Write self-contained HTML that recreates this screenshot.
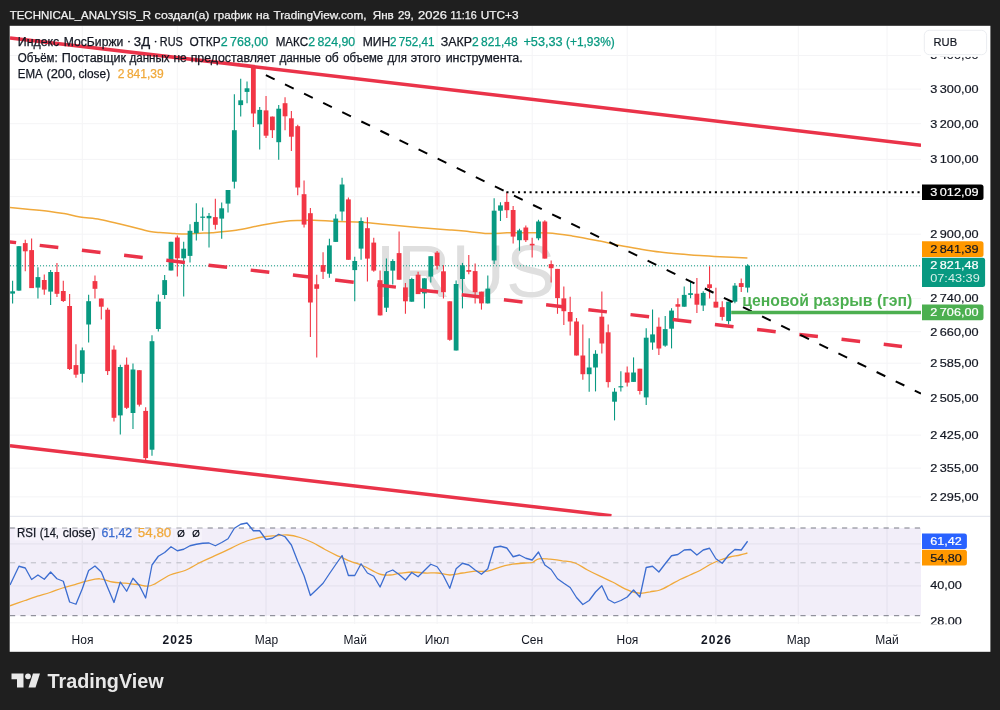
<!DOCTYPE html>
<html><head><meta charset="utf-8"><title>chart</title>
<style>
html,body{margin:0;padding:0;background:#1f1f1f;}
body{width:1000px;height:710px;overflow:hidden;position:relative;font-family:"Liberation Sans", sans-serif;}
svg{position:absolute;left:0;top:0;will-change:transform;}
text{font-family:"Liberation Sans", sans-serif;}
</style></head><body>
<svg width="1000" height="710" viewBox="0 0 1000 710">
<defs>
<clipPath id="main"><rect x="10" y="26" width="911" height="490.29999999999995"/></clipPath>
<clipPath id="rsi"><rect x="10" y="516.3" width="911" height="108.20000000000005"/></clipPath>
<clipPath id="axr"><rect x="921" y="516.3" width="69" height="108.0"/></clipPath>
</defs>
<rect x="0" y="0" width="1000" height="710" fill="#1f1f1f"/>
<rect x="9.7" y="25.8" width="980.7" height="626" fill="#ffffff"/>

<text x="9.70" y="19" font-size="11.6" fill="#f2f2f2" stroke="#f2f2f2" stroke-width="0.25" textLength="141.4" lengthAdjust="spacingAndGlyphs">TECHNICAL_ANALYSIS_R</text>
<text x="154.60" y="19" font-size="11.6" fill="#f2f2f2" stroke="#f2f2f2" stroke-width="0.25" textLength="54.8" lengthAdjust="spacingAndGlyphs">создал(а)</text>
<text x="213.50" y="19" font-size="11.6" fill="#f2f2f2" stroke="#f2f2f2" stroke-width="0.25" textLength="38.3" lengthAdjust="spacingAndGlyphs">график</text>
<text x="255.90" y="19" font-size="11.6" fill="#f2f2f2" stroke="#f2f2f2" stroke-width="0.25" textLength="13.4" lengthAdjust="spacingAndGlyphs">на</text>
<text x="273.40" y="19" font-size="11.6" fill="#f2f2f2" stroke="#f2f2f2" stroke-width="0.25" textLength="93.1" lengthAdjust="spacingAndGlyphs">TradingView.com,</text>
<text x="372.80" y="19" font-size="11.6" fill="#f2f2f2" stroke="#f2f2f2" stroke-width="0.25" textLength="21.0" lengthAdjust="spacingAndGlyphs">Янв</text>
<text x="397.90" y="19" font-size="11.6" fill="#f2f2f2" stroke="#f2f2f2" stroke-width="0.25" textLength="15.9" lengthAdjust="spacingAndGlyphs">29,</text>
<text x="418.10" y="19" font-size="11.6" fill="#f2f2f2" stroke="#f2f2f2" stroke-width="0.25" textLength="28.9" lengthAdjust="spacingAndGlyphs">2026</text>
<text x="450.50" y="19" font-size="11.6" fill="#f2f2f2" stroke="#f2f2f2" stroke-width="0.25" textLength="26.2" lengthAdjust="spacingAndGlyphs">11:16</text>
<text x="480.80" y="19" font-size="11.6" fill="#f2f2f2" stroke="#f2f2f2" stroke-width="0.25" textLength="37.7" lengthAdjust="spacingAndGlyphs">UTC+3</text>
<line x1="82.3" y1="26" x2="82.3" y2="624.0" stroke="#f4f4f6" stroke-width="1"/>
<line x1="177.3" y1="26" x2="177.3" y2="624.0" stroke="#f4f4f6" stroke-width="1"/>
<line x1="266.0" y1="26" x2="266.0" y2="624.0" stroke="#f4f4f6" stroke-width="1"/>
<line x1="354.7" y1="26" x2="354.7" y2="624.0" stroke="#f4f4f6" stroke-width="1"/>
<line x1="437.1" y1="26" x2="437.1" y2="624.0" stroke="#f4f4f6" stroke-width="1"/>
<line x1="532.2" y1="26" x2="532.2" y2="624.0" stroke="#f4f4f6" stroke-width="1"/>
<line x1="627.2" y1="26" x2="627.2" y2="624.0" stroke="#f4f4f6" stroke-width="1"/>
<line x1="715.9" y1="26" x2="715.9" y2="624.0" stroke="#f4f4f6" stroke-width="1"/>
<line x1="798.3" y1="26" x2="798.3" y2="624.0" stroke="#f4f4f6" stroke-width="1"/>
<line x1="887.0" y1="26" x2="887.0" y2="624.0" stroke="#f4f4f6" stroke-width="1"/>
<line x1="10" y1="55.5" x2="921" y2="55.5" stroke="#f4f4f6" stroke-width="1"/>
<line x1="10" y1="89.1" x2="921" y2="89.1" stroke="#f4f4f6" stroke-width="1"/>
<line x1="10" y1="123.7" x2="921" y2="123.7" stroke="#f4f4f6" stroke-width="1"/>
<line x1="10" y1="159.4" x2="921" y2="159.4" stroke="#f4f4f6" stroke-width="1"/>
<line x1="10" y1="196.6" x2="921" y2="196.6" stroke="#f4f4f6" stroke-width="1"/>
<line x1="10" y1="234.2" x2="921" y2="234.2" stroke="#f4f4f6" stroke-width="1"/>
<line x1="10" y1="266" x2="921" y2="266" stroke="#f4f4f6" stroke-width="1"/>
<line x1="10" y1="298.6" x2="921" y2="298.6" stroke="#f4f4f6" stroke-width="1"/>
<line x1="10" y1="331.7" x2="921" y2="331.7" stroke="#f4f4f6" stroke-width="1"/>
<line x1="10" y1="363.2" x2="921" y2="363.2" stroke="#f4f4f6" stroke-width="1"/>
<line x1="10" y1="398" x2="921" y2="398" stroke="#f4f4f6" stroke-width="1"/>
<line x1="10" y1="435.1" x2="921" y2="435.1" stroke="#f4f4f6" stroke-width="1"/>
<line x1="10" y1="468.1" x2="921" y2="468.1" stroke="#f4f4f6" stroke-width="1"/>
<line x1="10" y1="496.9" x2="921" y2="496.9" stroke="#f4f4f6" stroke-width="1"/>
<line x1="10" y1="543.9" x2="921" y2="543.9" stroke="#f4f4f6" stroke-width="1"/>
<line x1="10" y1="585.9" x2="921" y2="585.9" stroke="#f4f4f6" stroke-width="1"/>
<line x1="10" y1="622.8" x2="921" y2="622.8" stroke="#f4f4f6" stroke-width="1"/>
<text x="375.3" y="297" font-size="74" fill="#dfdfdf" textLength="180" lengthAdjust="spacing">IRUS</text>
<rect x="10" y="528" width="911" height="87.70000000000005" fill="#7e57c2" fill-opacity="0.1"/>
<line x1="82.3" y1="528" x2="82.3" y2="615.7" stroke="#e8e5f1" stroke-width="1"/>
<line x1="177.3" y1="528" x2="177.3" y2="615.7" stroke="#e8e5f1" stroke-width="1"/>
<line x1="266.0" y1="528" x2="266.0" y2="615.7" stroke="#e8e5f1" stroke-width="1"/>
<line x1="354.7" y1="528" x2="354.7" y2="615.7" stroke="#e8e5f1" stroke-width="1"/>
<line x1="437.1" y1="528" x2="437.1" y2="615.7" stroke="#e8e5f1" stroke-width="1"/>
<line x1="532.2" y1="528" x2="532.2" y2="615.7" stroke="#e8e5f1" stroke-width="1"/>
<line x1="627.2" y1="528" x2="627.2" y2="615.7" stroke="#e8e5f1" stroke-width="1"/>
<line x1="715.9" y1="528" x2="715.9" y2="615.7" stroke="#e8e5f1" stroke-width="1"/>
<line x1="798.3" y1="528" x2="798.3" y2="615.7" stroke="#e8e5f1" stroke-width="1"/>
<line x1="887.0" y1="528" x2="887.0" y2="615.7" stroke="#e8e5f1" stroke-width="1"/>
<line x1="10" y1="543.9" x2="921" y2="543.9" stroke="#e8e5f1" stroke-width="1"/>
<line x1="10" y1="585.9" x2="921" y2="585.9" stroke="#e8e5f1" stroke-width="1"/>
<line x1="10" y1="528" x2="921" y2="528" stroke="#787b86" stroke-width="1" stroke-dasharray="5.2 5.2"/>
<line x1="10" y1="562.8" x2="921" y2="562.8" stroke="#b9bbc4" stroke-width="1" stroke-dasharray="5.2 5.2"/>
<line x1="10" y1="615.7" x2="921" y2="615.7" stroke="#787b86" stroke-width="1" stroke-dasharray="5.2 5.2"/>
<line x1="10" y1="516.3" x2="990" y2="516.3" stroke="#e0e3eb" stroke-width="1"/>
<g clip-path="url(#main)">
<line x1="10" y1="265.8" x2="921" y2="265.8" stroke="#089981" stroke-width="1" stroke-dasharray="1 2"/>
<path d="M10.0 207.6C13.3 207.9 23.3 208.8 30.0 209.4C36.7 210.0 44.3 210.7 50.0 211.4C55.7 212.1 59.0 212.7 64.0 213.6C69.0 214.5 74.0 216.0 80.0 217.0C86.0 218.0 93.3 218.2 100.0 219.4C106.7 220.6 113.3 222.4 120.0 224.0C126.7 225.6 135.0 227.7 140.0 229.0C145.0 230.3 146.7 231.0 150.0 231.6C153.3 232.2 155.8 232.3 160.0 232.6C164.2 232.9 170.3 233.4 175.0 233.6C179.7 233.8 183.8 234.0 188.0 233.9C192.2 233.8 196.0 233.4 200.0 233.2C204.0 233.0 206.0 233.2 212.0 232.7C218.0 232.2 228.0 231.5 236.0 230.3C244.0 229.1 252.0 227.0 260.0 225.5C268.0 224.0 277.3 222.2 284.0 221.4C290.7 220.6 295.0 220.6 300.0 220.4C305.0 220.2 307.7 220.1 314.0 220.3C320.3 220.5 330.0 221.2 338.0 221.5C346.0 221.8 354.0 221.7 362.0 222.2C370.0 222.7 378.0 223.8 386.0 224.6C394.0 225.4 402.0 226.1 410.0 226.8C418.0 227.5 427.3 228.2 434.0 228.7C440.7 229.2 445.0 229.5 450.0 229.9C455.0 230.3 457.7 230.5 464.0 231.1C470.3 231.7 480.8 233.2 488.0 233.5C495.2 233.8 501.0 232.9 507.0 232.8C513.0 232.7 517.2 232.8 524.0 232.8C530.8 232.8 540.0 232.5 548.0 233.0C556.0 233.5 563.3 234.6 572.0 235.9C580.7 237.2 592.0 239.5 600.0 241.1C608.0 242.7 613.3 244.2 620.0 245.5C626.7 246.8 633.3 247.9 640.0 249.0C646.7 250.1 653.3 251.2 660.0 252.0C666.7 252.8 673.3 253.4 680.0 254.0C686.7 254.6 693.3 255.1 700.0 255.6C706.7 256.1 712.1 256.4 720.0 256.8C727.9 257.2 742.8 257.8 747.4 258.0" fill="none" stroke="#f0a93b" stroke-width="1.5" stroke-linejoin="round"/>
<line x1="12.60" y1="280.8" x2="12.60" y2="303.6" stroke="#089981" stroke-width="1.1"/>
<rect x="10.20" y="291.3" width="4.8" height="2.3" fill="#089981"/>
<line x1="18.94" y1="246.0" x2="18.94" y2="290.8" stroke="#089981" stroke-width="1.1"/>
<rect x="16.54" y="246.2" width="4.8" height="44.4" fill="#089981"/>
<line x1="25.27" y1="239.8" x2="25.27" y2="271.2" stroke="#f23645" stroke-width="1.1"/>
<rect x="22.87" y="243.1" width="4.8" height="8.2" fill="#f23645"/>
<line x1="31.61" y1="238.6" x2="31.61" y2="288.1" stroke="#f23645" stroke-width="1.1"/>
<rect x="29.21" y="250.1" width="4.8" height="38.0" fill="#f23645"/>
<line x1="37.94" y1="267.3" x2="37.94" y2="298.5" stroke="#089981" stroke-width="1.1"/>
<rect x="35.54" y="277.1" width="4.8" height="10.5" fill="#089981"/>
<line x1="44.28" y1="274.4" x2="44.28" y2="294.7" stroke="#f23645" stroke-width="1.1"/>
<rect x="41.88" y="280.0" width="4.8" height="9.6" fill="#f23645"/>
<line x1="50.62" y1="270.0" x2="50.62" y2="305.0" stroke="#089981" stroke-width="1.1"/>
<rect x="48.22" y="272.0" width="4.8" height="19.6" fill="#089981"/>
<line x1="56.95" y1="263.0" x2="56.95" y2="296.9" stroke="#f23645" stroke-width="1.1"/>
<rect x="54.55" y="272.0" width="4.8" height="21.8" fill="#f23645"/>
<line x1="63.29" y1="280.8" x2="63.29" y2="302.0" stroke="#f23645" stroke-width="1.1"/>
<rect x="60.89" y="291.0" width="4.8" height="10.0" fill="#f23645"/>
<line x1="69.62" y1="294.0" x2="69.62" y2="370.0" stroke="#f23645" stroke-width="1.1"/>
<rect x="67.22" y="306.0" width="4.8" height="63.0" fill="#f23645"/>
<line x1="75.96" y1="344.3" x2="75.96" y2="377.8" stroke="#f23645" stroke-width="1.1"/>
<rect x="73.56" y="365.1" width="4.8" height="9.6" fill="#f23645"/>
<line x1="82.30" y1="347.4" x2="82.30" y2="382.6" stroke="#089981" stroke-width="1.1"/>
<rect x="79.90" y="350.3" width="4.8" height="23.5" fill="#089981"/>
<line x1="88.63" y1="294.7" x2="88.63" y2="342.6" stroke="#089981" stroke-width="1.1"/>
<rect x="86.23" y="301.2" width="4.8" height="23.3" fill="#089981"/>
<line x1="94.97" y1="275.4" x2="94.97" y2="298.5" stroke="#f23645" stroke-width="1.1"/>
<rect x="92.57" y="281.1" width="4.8" height="7.7" fill="#f23645"/>
<line x1="101.30" y1="298.5" x2="101.30" y2="319.5" stroke="#f23645" stroke-width="1.1"/>
<rect x="98.90" y="298.5" width="4.8" height="8.2" fill="#f23645"/>
<line x1="107.64" y1="307.8" x2="107.64" y2="375.0" stroke="#f23645" stroke-width="1.1"/>
<rect x="105.24" y="309.7" width="4.8" height="61.4" fill="#f23645"/>
<line x1="113.98" y1="345.5" x2="113.98" y2="421.4" stroke="#f23645" stroke-width="1.1"/>
<rect x="111.58" y="349.6" width="4.8" height="68.2" fill="#f23645"/>
<line x1="120.31" y1="364.7" x2="120.31" y2="434.6" stroke="#089981" stroke-width="1.1"/>
<rect x="117.91" y="367.0" width="4.8" height="48.4" fill="#089981"/>
<line x1="126.65" y1="357.5" x2="126.65" y2="409.0" stroke="#f23645" stroke-width="1.1"/>
<rect x="124.25" y="364.7" width="4.8" height="43.1" fill="#f23645"/>
<line x1="132.98" y1="363.5" x2="132.98" y2="428.9" stroke="#089981" stroke-width="1.1"/>
<rect x="130.58" y="369.5" width="4.8" height="43.5" fill="#089981"/>
<line x1="139.32" y1="370.2" x2="139.32" y2="406.6" stroke="#f23645" stroke-width="1.1"/>
<rect x="136.92" y="370.2" width="4.8" height="34.5" fill="#f23645"/>
<line x1="145.66" y1="407.3" x2="145.66" y2="460.0" stroke="#f23645" stroke-width="1.1"/>
<rect x="143.26" y="410.9" width="4.8" height="47.2" fill="#f23645"/>
<line x1="151.99" y1="335.3" x2="151.99" y2="455.7" stroke="#089981" stroke-width="1.1"/>
<rect x="149.59" y="341.2" width="4.8" height="108.5" fill="#089981"/>
<line x1="158.33" y1="294.4" x2="158.33" y2="331.6" stroke="#089981" stroke-width="1.1"/>
<rect x="155.93" y="301.6" width="4.8" height="27.4" fill="#089981"/>
<line x1="164.66" y1="275.1" x2="164.66" y2="299.0" stroke="#089981" stroke-width="1.1"/>
<rect x="162.26" y="280.1" width="4.8" height="14.9" fill="#089981"/>
<line x1="171.00" y1="241.8" x2="171.00" y2="270.5" stroke="#089981" stroke-width="1.1"/>
<rect x="168.60" y="241.8" width="4.8" height="28.7" fill="#089981"/>
<line x1="177.34" y1="235.6" x2="177.34" y2="276.5" stroke="#f23645" stroke-width="1.1"/>
<rect x="174.94" y="237.5" width="4.8" height="20.8" fill="#f23645"/>
<line x1="183.67" y1="241.8" x2="183.67" y2="296.6" stroke="#089981" stroke-width="1.1"/>
<rect x="181.27" y="248.7" width="4.8" height="9.6" fill="#089981"/>
<line x1="190.01" y1="224.3" x2="190.01" y2="262.6" stroke="#089981" stroke-width="1.1"/>
<rect x="187.61" y="230.8" width="4.8" height="25.1" fill="#089981"/>
<line x1="196.34" y1="203.2" x2="196.34" y2="240.4" stroke="#089981" stroke-width="1.1"/>
<rect x="193.94" y="221.9" width="4.8" height="11.3" fill="#089981"/>
<line x1="202.68" y1="207.5" x2="202.68" y2="230.8" stroke="#089981" stroke-width="1.1"/>
<rect x="200.28" y="216.6" width="4.8" height="1.2" fill="#089981"/>
<line x1="209.02" y1="213.0" x2="209.02" y2="247.5" stroke="#089981" stroke-width="1.1"/>
<rect x="206.62" y="215.9" width="4.8" height="2.4" fill="#089981"/>
<line x1="215.35" y1="198.7" x2="215.35" y2="229.6" stroke="#f23645" stroke-width="1.1"/>
<rect x="212.95" y="217.1" width="4.8" height="7.7" fill="#f23645"/>
<line x1="221.69" y1="202.4" x2="221.69" y2="238.7" stroke="#089981" stroke-width="1.1"/>
<rect x="219.29" y="208.3" width="4.8" height="10.3" fill="#089981"/>
<line x1="228.02" y1="190.0" x2="228.02" y2="212.4" stroke="#089981" stroke-width="1.1"/>
<rect x="225.62" y="190.0" width="4.8" height="13.6" fill="#089981"/>
<line x1="234.36" y1="94.3" x2="234.36" y2="188.4" stroke="#089981" stroke-width="1.1"/>
<rect x="231.96" y="130.2" width="4.8" height="51.5" fill="#089981"/>
<line x1="240.70" y1="78.7" x2="240.70" y2="116.6" stroke="#089981" stroke-width="1.1"/>
<rect x="238.30" y="100.3" width="4.8" height="4.8" fill="#089981"/>
<line x1="247.03" y1="81.6" x2="247.03" y2="103.2" stroke="#089981" stroke-width="1.1"/>
<rect x="244.63" y="88.3" width="4.8" height="3.6" fill="#089981"/>
<line x1="253.37" y1="67.0" x2="253.37" y2="127.1" stroke="#f23645" stroke-width="1.1"/>
<rect x="250.97" y="68.0" width="4.8" height="45.5" fill="#f23645"/>
<line x1="259.70" y1="107.0" x2="259.70" y2="149.4" stroke="#089981" stroke-width="1.1"/>
<rect x="257.30" y="109.9" width="4.8" height="14.4" fill="#089981"/>
<line x1="266.04" y1="96.0" x2="266.04" y2="138.1" stroke="#f23645" stroke-width="1.1"/>
<rect x="263.64" y="110.4" width="4.8" height="25.3" fill="#f23645"/>
<line x1="272.38" y1="116.6" x2="272.38" y2="138.1" stroke="#f23645" stroke-width="1.1"/>
<rect x="269.98" y="116.6" width="4.8" height="13.6" fill="#f23645"/>
<line x1="278.71" y1="105.1" x2="278.71" y2="159.7" stroke="#089981" stroke-width="1.1"/>
<rect x="276.31" y="108.7" width="4.8" height="33.5" fill="#089981"/>
<line x1="285.05" y1="97.2" x2="285.05" y2="130.2" stroke="#f23645" stroke-width="1.1"/>
<rect x="282.65" y="103.2" width="4.8" height="13.1" fill="#f23645"/>
<line x1="291.38" y1="111.1" x2="291.38" y2="151.1" stroke="#f23645" stroke-width="1.1"/>
<rect x="288.98" y="118.3" width="4.8" height="18.4" fill="#f23645"/>
<line x1="297.72" y1="124.7" x2="297.72" y2="195.3" stroke="#f23645" stroke-width="1.1"/>
<rect x="295.32" y="126.2" width="4.8" height="61.3" fill="#f23645"/>
<line x1="304.06" y1="180.6" x2="304.06" y2="227.5" stroke="#f23645" stroke-width="1.1"/>
<rect x="301.66" y="194.2" width="4.8" height="30.4" fill="#f23645"/>
<line x1="310.39" y1="207.9" x2="310.39" y2="337.1" stroke="#f23645" stroke-width="1.1"/>
<rect x="307.99" y="213.2" width="4.8" height="89.3" fill="#f23645"/>
<line x1="316.73" y1="274.7" x2="316.73" y2="357.5" stroke="#f23645" stroke-width="1.1"/>
<rect x="314.33" y="284.3" width="4.8" height="4.5" fill="#f23645"/>
<line x1="323.06" y1="252.2" x2="323.06" y2="279.0" stroke="#f23645" stroke-width="1.1"/>
<rect x="320.66" y="265.1" width="4.8" height="6.7" fill="#f23645"/>
<line x1="329.40" y1="238.7" x2="329.40" y2="277.8" stroke="#089981" stroke-width="1.1"/>
<rect x="327.00" y="245.4" width="4.8" height="28.3" fill="#089981"/>
<line x1="335.74" y1="214.3" x2="335.74" y2="241.9" stroke="#089981" stroke-width="1.1"/>
<rect x="333.34" y="218.6" width="4.8" height="23.3" fill="#089981"/>
<line x1="342.07" y1="177.7" x2="342.07" y2="220.8" stroke="#089981" stroke-width="1.1"/>
<rect x="339.67" y="184.5" width="4.8" height="27.0" fill="#089981"/>
<line x1="348.41" y1="197.4" x2="348.41" y2="259.8" stroke="#f23645" stroke-width="1.1"/>
<rect x="346.01" y="199.4" width="4.8" height="60.4" fill="#f23645"/>
<line x1="354.74" y1="256.7" x2="354.74" y2="301.3" stroke="#089981" stroke-width="1.1"/>
<rect x="352.34" y="261.0" width="4.8" height="9.1" fill="#089981"/>
<line x1="361.08" y1="217.4" x2="361.08" y2="259.8" stroke="#089981" stroke-width="1.1"/>
<rect x="358.68" y="221.0" width="4.8" height="27.6" fill="#089981"/>
<line x1="367.42" y1="217.2" x2="367.42" y2="281.4" stroke="#f23645" stroke-width="1.1"/>
<rect x="365.02" y="228.2" width="4.8" height="30.4" fill="#f23645"/>
<line x1="373.75" y1="237.8" x2="373.75" y2="271.8" stroke="#f23645" stroke-width="1.1"/>
<rect x="371.35" y="242.6" width="4.8" height="28.0" fill="#f23645"/>
<line x1="380.09" y1="270.6" x2="380.09" y2="315.4" stroke="#f23645" stroke-width="1.1"/>
<rect x="377.69" y="280.2" width="4.8" height="35.2" fill="#f23645"/>
<line x1="386.42" y1="258.6" x2="386.42" y2="312.0" stroke="#089981" stroke-width="1.1"/>
<rect x="384.02" y="271.1" width="4.8" height="36.6" fill="#089981"/>
<line x1="392.76" y1="259.3" x2="392.76" y2="284.5" stroke="#089981" stroke-width="1.1"/>
<rect x="390.36" y="261.0" width="4.8" height="9.6" fill="#089981"/>
<line x1="399.10" y1="231.6" x2="399.10" y2="279.7" stroke="#f23645" stroke-width="1.1"/>
<rect x="396.70" y="253.1" width="4.8" height="26.6" fill="#f23645"/>
<line x1="405.43" y1="283.1" x2="405.43" y2="313.7" stroke="#f23645" stroke-width="1.1"/>
<rect x="403.03" y="287.4" width="4.8" height="13.9" fill="#f23645"/>
<line x1="411.77" y1="277.8" x2="411.77" y2="301.7" stroke="#089981" stroke-width="1.1"/>
<rect x="409.37" y="279.0" width="4.8" height="22.7" fill="#089981"/>
<line x1="418.10" y1="271.8" x2="418.10" y2="294.1" stroke="#f23645" stroke-width="1.1"/>
<rect x="415.70" y="274.7" width="4.8" height="19.4" fill="#f23645"/>
<line x1="424.44" y1="278.3" x2="424.44" y2="308.4" stroke="#089981" stroke-width="1.1"/>
<rect x="422.04" y="278.3" width="4.8" height="15.1" fill="#089981"/>
<line x1="430.78" y1="256.2" x2="430.78" y2="282.6" stroke="#089981" stroke-width="1.1"/>
<rect x="428.38" y="256.2" width="4.8" height="20.4" fill="#089981"/>
<line x1="437.11" y1="251.0" x2="437.11" y2="269.4" stroke="#f23645" stroke-width="1.1"/>
<rect x="434.71" y="252.6" width="4.8" height="13.2" fill="#f23645"/>
<line x1="443.45" y1="265.3" x2="443.45" y2="298.4" stroke="#f23645" stroke-width="1.1"/>
<rect x="441.05" y="271.3" width="4.8" height="20.9" fill="#f23645"/>
<line x1="449.78" y1="301.3" x2="449.78" y2="340.7" stroke="#f23645" stroke-width="1.1"/>
<rect x="447.38" y="301.3" width="4.8" height="38.5" fill="#f23645"/>
<line x1="456.12" y1="280.5" x2="456.12" y2="350.5" stroke="#089981" stroke-width="1.1"/>
<rect x="453.72" y="284.0" width="4.8" height="66.5" fill="#089981"/>
<line x1="462.46" y1="262.9" x2="462.46" y2="308.4" stroke="#089981" stroke-width="1.1"/>
<rect x="460.06" y="265.3" width="4.8" height="13.7" fill="#089981"/>
<line x1="468.79" y1="255.0" x2="468.79" y2="274.2" stroke="#f23645" stroke-width="1.1"/>
<rect x="466.39" y="270.1" width="4.8" height="1.7" fill="#f23645"/>
<line x1="475.13" y1="263.4" x2="475.13" y2="303.4" stroke="#f23645" stroke-width="1.1"/>
<rect x="472.73" y="271.1" width="4.8" height="21.1" fill="#f23645"/>
<line x1="481.46" y1="291.7" x2="481.46" y2="309.6" stroke="#f23645" stroke-width="1.1"/>
<rect x="479.06" y="291.7" width="4.8" height="11.7" fill="#f23645"/>
<line x1="487.80" y1="275.4" x2="487.80" y2="303.4" stroke="#089981" stroke-width="1.1"/>
<rect x="485.40" y="288.6" width="4.8" height="14.8" fill="#089981"/>
<line x1="494.14" y1="198.3" x2="494.14" y2="263.9" stroke="#089981" stroke-width="1.1"/>
<rect x="491.74" y="210.7" width="4.8" height="49.8" fill="#089981"/>
<line x1="500.47" y1="202.3" x2="500.47" y2="221.0" stroke="#089981" stroke-width="1.1"/>
<rect x="498.07" y="205.4" width="4.8" height="5.3" fill="#089981"/>
<line x1="506.81" y1="192.3" x2="506.81" y2="217.9" stroke="#f23645" stroke-width="1.1"/>
<rect x="504.41" y="201.9" width="4.8" height="8.3" fill="#f23645"/>
<line x1="513.14" y1="205.9" x2="513.14" y2="243.5" stroke="#f23645" stroke-width="1.1"/>
<rect x="510.74" y="210.0" width="4.8" height="26.6" fill="#f23645"/>
<line x1="519.48" y1="228.7" x2="519.48" y2="250.7" stroke="#089981" stroke-width="1.1"/>
<rect x="517.08" y="230.4" width="4.8" height="9.8" fill="#089981"/>
<line x1="525.82" y1="225.6" x2="525.82" y2="241.9" stroke="#f23645" stroke-width="1.1"/>
<rect x="523.42" y="227.5" width="4.8" height="12.7" fill="#f23645"/>
<line x1="532.15" y1="237.8" x2="532.15" y2="257.4" stroke="#f23645" stroke-width="1.1"/>
<rect x="529.75" y="243.8" width="4.8" height="1.6" fill="#f23645"/>
<line x1="538.49" y1="219.8" x2="538.49" y2="240.2" stroke="#089981" stroke-width="1.1"/>
<rect x="536.09" y="221.5" width="4.8" height="16.8" fill="#089981"/>
<line x1="544.82" y1="220.3" x2="544.82" y2="258.6" stroke="#f23645" stroke-width="1.1"/>
<rect x="542.42" y="221.5" width="4.8" height="37.1" fill="#f23645"/>
<line x1="551.16" y1="260.5" x2="551.16" y2="282.4" stroke="#f23645" stroke-width="1.1"/>
<rect x="548.76" y="264.1" width="4.8" height="4.1" fill="#f23645"/>
<line x1="557.50" y1="268.9" x2="557.50" y2="313.8" stroke="#f23645" stroke-width="1.1"/>
<rect x="555.10" y="268.9" width="4.8" height="29.2" fill="#f23645"/>
<line x1="563.83" y1="286.4" x2="563.83" y2="325.1" stroke="#f23645" stroke-width="1.1"/>
<rect x="561.43" y="298.4" width="4.8" height="12.8" fill="#f23645"/>
<line x1="570.17" y1="296.8" x2="570.17" y2="335.4" stroke="#f23645" stroke-width="1.1"/>
<rect x="567.77" y="312.0" width="4.8" height="9.5" fill="#f23645"/>
<line x1="576.50" y1="318.0" x2="576.50" y2="355.5" stroke="#f23645" stroke-width="1.1"/>
<rect x="574.10" y="321.5" width="4.8" height="34.0" fill="#f23645"/>
<line x1="582.84" y1="324.6" x2="582.84" y2="379.7" stroke="#f23645" stroke-width="1.1"/>
<rect x="580.44" y="355.5" width="4.8" height="18.7" fill="#f23645"/>
<line x1="589.18" y1="338.3" x2="589.18" y2="391.7" stroke="#089981" stroke-width="1.1"/>
<rect x="586.78" y="367.5" width="4.8" height="6.7" fill="#089981"/>
<line x1="595.51" y1="350.2" x2="595.51" y2="391.4" stroke="#089981" stroke-width="1.1"/>
<rect x="593.11" y="353.8" width="4.8" height="13.7" fill="#089981"/>
<line x1="601.85" y1="291.6" x2="601.85" y2="353.4" stroke="#f23645" stroke-width="1.1"/>
<rect x="599.45" y="316.7" width="4.8" height="26.8" fill="#f23645"/>
<line x1="608.18" y1="324.6" x2="608.18" y2="387.4" stroke="#f23645" stroke-width="1.1"/>
<rect x="605.78" y="332.3" width="4.8" height="49.8" fill="#f23645"/>
<line x1="614.52" y1="388.1" x2="614.52" y2="420.4" stroke="#089981" stroke-width="1.1"/>
<rect x="612.12" y="391.7" width="4.8" height="10.0" fill="#089981"/>
<line x1="620.86" y1="371.3" x2="620.86" y2="391.4" stroke="#089981" stroke-width="1.1"/>
<rect x="618.46" y="386.2" width="4.8" height="1.2" fill="#089981"/>
<line x1="627.19" y1="366.5" x2="627.19" y2="386.6" stroke="#f23645" stroke-width="1.1"/>
<rect x="624.79" y="372.5" width="4.8" height="10.1" fill="#f23645"/>
<line x1="633.53" y1="357.4" x2="633.53" y2="381.9" stroke="#089981" stroke-width="1.1"/>
<rect x="631.13" y="372.5" width="4.8" height="9.4" fill="#089981"/>
<line x1="639.86" y1="368.7" x2="639.86" y2="394.6" stroke="#f23645" stroke-width="1.1"/>
<rect x="637.46" y="368.7" width="4.8" height="22.3" fill="#f23645"/>
<line x1="646.20" y1="328.2" x2="646.20" y2="404.9" stroke="#089981" stroke-width="1.1"/>
<rect x="643.80" y="337.7" width="4.8" height="59.7" fill="#089981"/>
<line x1="652.54" y1="309.5" x2="652.54" y2="349.8" stroke="#089981" stroke-width="1.1"/>
<rect x="650.14" y="334.4" width="4.8" height="8.1" fill="#089981"/>
<line x1="658.87" y1="317.4" x2="658.87" y2="355.0" stroke="#f23645" stroke-width="1.1"/>
<rect x="656.47" y="326.7" width="4.8" height="21.8" fill="#f23645"/>
<line x1="665.21" y1="316.1" x2="665.21" y2="346.8" stroke="#089981" stroke-width="1.1"/>
<rect x="662.81" y="329.1" width="4.8" height="16.5" fill="#089981"/>
<line x1="671.54" y1="308.2" x2="671.54" y2="348.4" stroke="#089981" stroke-width="1.1"/>
<rect x="669.14" y="310.6" width="4.8" height="18.1" fill="#089981"/>
<line x1="677.88" y1="298.3" x2="677.88" y2="318.8" stroke="#f23645" stroke-width="1.1"/>
<rect x="675.48" y="304.2" width="4.8" height="2.5" fill="#f23645"/>
<line x1="684.22" y1="286.5" x2="684.22" y2="306.7" stroke="#089981" stroke-width="1.1"/>
<rect x="681.82" y="294.9" width="4.8" height="11.8" fill="#089981"/>
<line x1="690.55" y1="281.9" x2="690.55" y2="298.3" stroke="#089981" stroke-width="1.1"/>
<rect x="688.15" y="293.2" width="4.8" height="1.7" fill="#089981"/>
<line x1="696.89" y1="278.0" x2="696.89" y2="313.1" stroke="#f23645" stroke-width="1.1"/>
<rect x="694.49" y="293.7" width="4.8" height="11.0" fill="#f23645"/>
<line x1="703.22" y1="291.2" x2="703.22" y2="310.9" stroke="#089981" stroke-width="1.1"/>
<rect x="700.82" y="292.9" width="4.8" height="12.6" fill="#089981"/>
<line x1="709.56" y1="266.2" x2="709.56" y2="298.6" stroke="#f23645" stroke-width="1.1"/>
<rect x="707.16" y="284.3" width="4.8" height="3.8" fill="#f23645"/>
<line x1="715.90" y1="287.8" x2="715.90" y2="307.6" stroke="#f23645" stroke-width="1.1"/>
<rect x="713.50" y="301.7" width="4.8" height="5.9" fill="#f23645"/>
<line x1="722.23" y1="301.3" x2="722.23" y2="320.6" stroke="#f23645" stroke-width="1.1"/>
<rect x="719.83" y="307.2" width="4.8" height="9.7" fill="#f23645"/>
<line x1="728.57" y1="301.7" x2="728.57" y2="324.5" stroke="#089981" stroke-width="1.1"/>
<rect x="726.17" y="301.7" width="4.8" height="19.4" fill="#089981"/>
<line x1="734.90" y1="283.1" x2="734.90" y2="303.3" stroke="#089981" stroke-width="1.1"/>
<rect x="732.50" y="285.6" width="4.8" height="16.1" fill="#089981"/>
<line x1="741.24" y1="278.5" x2="741.24" y2="292.0" stroke="#f23645" stroke-width="1.1"/>
<rect x="738.84" y="283.1" width="4.8" height="3.9" fill="#f23645"/>
<line x1="747.58" y1="264.2" x2="747.58" y2="292.4" stroke="#089981" stroke-width="1.1"/>
<rect x="745.18" y="265.7" width="4.8" height="21.9" fill="#089981"/>
<line x1="10" y1="37.9" x2="921" y2="145.2" stroke="#ea3349" stroke-width="3.5"/>
<line x1="10" y1="445.8" x2="611.5" y2="515.7" stroke="#ea3349" stroke-width="3.5"/>
<line x1="-2.5" y1="240.44" x2="902" y2="346.45" stroke="#ea3349" stroke-width="3.5" stroke-dasharray="18.73 23.76"/>
<line x1="265.9" y1="75.1" x2="921" y2="393.6" stroke="#000" stroke-width="2" stroke-dasharray="9.67 11.55"/>
<line x1="506.4" y1="192.2" x2="921" y2="192.2" stroke="#000" stroke-width="2.1" stroke-dasharray="2.1 3.69"/>
<line x1="731.2" y1="312.5" x2="921" y2="312.5" stroke="#4caf50" stroke-width="3.3"/>
<text x="742.3" y="305.6" font-size="15.6" font-weight="bold" fill="#4caf50" textLength="170" lengthAdjust="spacingAndGlyphs">ценовой разрыв (гэп)</text>
</g>
<g clip-path="url(#rsi)">
<path d="M10.0 605.8C12.5 604.9 20.4 602.1 25.0 600.5C29.6 598.9 33.3 597.6 37.5 596.2C41.7 594.9 45.8 593.9 50.0 592.5C54.2 591.1 58.3 589.3 62.5 588.0C66.7 586.7 70.8 585.7 75.0 584.5C79.2 583.3 83.3 581.7 87.5 580.8C91.7 579.8 95.8 578.5 100.0 578.8C104.2 579.0 108.3 581.2 112.5 582.0C116.7 582.8 120.8 582.8 125.0 583.2C129.2 583.7 133.8 584.0 137.5 584.5C141.2 585.0 144.6 586.4 147.5 586.2C150.4 586.1 151.2 585.6 155.0 583.8C158.8 581.9 165.0 577.2 170.0 575.0C175.0 572.8 180.0 572.6 185.0 570.5C190.0 568.4 195.4 564.8 200.0 562.5C204.6 560.2 208.3 558.6 212.5 556.8C216.7 554.9 220.8 553.2 225.0 551.2C229.2 549.3 233.3 546.9 237.5 545.0C241.7 543.1 245.8 541.3 250.0 540.0C254.2 538.7 258.3 537.7 262.5 537.0C266.7 536.3 270.8 536.1 275.0 535.8C279.2 535.4 283.3 534.7 287.5 535.0C291.7 535.3 295.8 536.2 300.0 537.5C304.2 538.8 308.3 540.5 312.5 542.5C316.7 544.5 320.8 547.3 325.0 549.5C329.2 551.7 333.3 553.8 337.5 555.8C341.7 557.7 345.8 559.6 350.0 561.2C354.2 562.9 358.3 563.7 362.5 565.5C366.7 567.3 371.9 570.5 375.0 572.0C378.1 573.5 378.8 574.0 381.2 574.5C383.8 575.0 386.9 575.2 390.0 575.0C393.1 574.8 396.2 573.8 400.0 573.2C403.8 572.8 408.3 572.0 412.5 572.0C416.7 572.0 420.8 572.8 425.0 573.0C429.2 573.2 433.3 572.7 437.5 573.0C441.7 573.3 445.8 575.0 450.0 575.0C454.2 575.0 458.3 573.6 462.5 573.0C466.7 572.4 470.8 571.5 475.0 571.2C479.2 571.0 483.3 572.0 487.5 571.2C491.7 570.5 495.8 568.2 500.0 567.0C504.2 565.8 508.3 564.9 512.5 564.2C516.7 563.6 521.7 563.3 525.0 563.0C528.3 562.7 530.2 563.2 532.5 562.5C534.8 561.8 535.8 559.3 538.8 558.8C541.7 558.2 546.0 558.9 550.0 559.2C554.0 559.6 558.3 560.1 562.5 560.8C566.7 561.4 570.8 561.5 575.0 563.0C579.2 564.5 583.3 567.8 587.5 570.0C591.7 572.2 595.8 574.2 600.0 576.2C604.2 578.2 608.3 579.9 612.5 582.0C616.7 584.1 621.2 587.0 625.0 588.8C628.8 590.5 632.1 591.8 635.0 592.5C637.9 593.2 640.0 593.4 642.5 593.2C645.0 593.1 647.1 592.3 650.0 591.8C652.9 591.2 656.7 591.1 660.0 590.0C663.3 588.9 666.7 586.8 670.0 585.0C673.3 583.2 676.7 581.2 680.0 579.5C683.3 577.8 686.7 576.5 690.0 575.0C693.3 573.5 696.7 572.2 700.0 570.5C703.3 568.8 706.7 566.2 710.0 564.5C713.3 562.8 716.7 561.2 720.0 560.0C723.3 558.8 726.7 557.8 730.0 557.0C733.3 556.2 737.1 555.7 740.0 555.0C742.9 554.3 746.2 553.3 747.4 553.0" fill="none" stroke="#f0a93b" stroke-width="1.3" stroke-linejoin="round"/>
<polyline points="10.00,585 18.94,566.25 25.27,568 31.61,579.5 37.94,575 44.28,579.25 50.62,572 56.95,578.75 63.29,581.25 69.62,602 75.96,604.25 82.30,588.75 88.63,570.5 94.97,566 101.30,572 107.64,587.5 113.98,602.5 120.31,582 126.65,591.25 132.98,578.25 139.32,585.5 145.66,598 151.99,565 158.33,556.25 164.66,552.5 171.00,546.75 177.34,550.75 183.67,549.25 190.01,545.75 196.34,544.25 202.68,543.25 209.02,543 215.35,545.75 221.69,542.5 228.02,538.75 234.36,528.25 240.70,524.25 247.03,523 253.37,530.75 259.70,530.75 266.04,539.5 272.38,538.25 278.71,534.25 285.05,536.75 291.38,545 297.72,561.25 304.06,575.75 310.39,595.5 316.73,589.5 323.06,583.25 329.40,573.75 335.74,564.5 342.07,555.5 348.41,575.5 354.74,575.5 361.08,563.75 367.42,573 373.75,576.25 380.09,587 386.42,572.5 392.76,570 399.10,574.5 405.43,580 411.77,572.5 418.10,576.75 424.44,570.5 430.78,564.25 437.11,566.75 443.45,575.75 449.78,588.25 456.12,568.75 462.46,563.25 468.79,565 475.13,570 481.46,574.25 487.80,568.75 494.14,547.5 500.47,546.25 506.81,548 513.14,556.75 519.48,555 525.82,558.25 532.15,560 538.49,552 544.82,565 551.16,569.5 557.50,578.75 563.83,583.25 570.17,587.5 576.50,597.5 582.84,604.5 589.18,600.5 595.51,592 601.85,585.75 608.18,599.5 614.52,603 620.86,600.5 627.19,597 633.53,590 639.86,597 646.20,567.5 652.54,566.25 658.87,572 665.21,563.75 671.54,555.75 677.88,554.5 684.22,550 690.55,549.5 696.89,555 703.22,550 709.56,548.25 715.90,558.75 722.23,563.25 728.57,555 734.90,549.5 741.24,550 747.58,541.25" fill="none" stroke="#3c6dd0" stroke-width="1.3" stroke-linejoin="round"/>
</g>
<text x="17.80" y="45.6" font-size="12" fill="#131722" stroke="#131722" stroke-width="0.25" textLength="41.5" lengthAdjust="spacingAndGlyphs">Индекс</text>
<text x="63.80" y="45.6" font-size="12" fill="#131722" stroke="#131722" stroke-width="0.25" textLength="59.5" lengthAdjust="spacingAndGlyphs">МосБиржи</text>
<text x="133.80" y="45.6" font-size="12" fill="#131722" stroke="#131722" stroke-width="0.25" textLength="16.3" lengthAdjust="spacingAndGlyphs">3Д</text>
<text x="159.80" y="45.6" font-size="12" fill="#131722" stroke="#131722" stroke-width="0.25" textLength="22.9" lengthAdjust="spacingAndGlyphs">RUS</text>
<text x="189.40" y="45.6" font-size="12" fill="#131722" stroke="#131722" stroke-width="0.25" textLength="31.3" lengthAdjust="spacingAndGlyphs">ОТКР</text>
<text x="275.65" y="45.6" font-size="12" fill="#131722" stroke="#131722" stroke-width="0.25" textLength="32.5" lengthAdjust="spacingAndGlyphs">МАКС</text>
<text x="362.65" y="45.6" font-size="12" fill="#131722" stroke="#131722" stroke-width="0.25" textLength="27.6" lengthAdjust="spacingAndGlyphs">МИН</text>
<text x="440.65" y="45.6" font-size="12" fill="#131722" stroke="#131722" stroke-width="0.25" textLength="31.3" lengthAdjust="spacingAndGlyphs">ЗАКР</text>
<circle cx="129" cy="41.6" r="0.9" fill="#131722"/><circle cx="155.6" cy="41.6" r="0.9" fill="#131722"/>
<text x="220.65" y="45.6" font-size="12" fill="#089981" stroke="#089981" stroke-width="0.25" textLength="47.5" lengthAdjust="spacingAndGlyphs">2 768,00</text>
<text x="308.15" y="45.6" font-size="12" fill="#089981" stroke="#089981" stroke-width="0.25" textLength="47.0" lengthAdjust="spacingAndGlyphs">2 824,90</text>
<text x="390.00" y="45.6" font-size="12" fill="#089981" stroke="#089981" stroke-width="0.25" textLength="44.4" lengthAdjust="spacingAndGlyphs">2 752,41</text>
<text x="471.90" y="45.6" font-size="12" fill="#089981" stroke="#089981" stroke-width="0.25" textLength="45.8" lengthAdjust="spacingAndGlyphs">2 821,48</text>
<text x="523.40" y="45.6" font-size="12" fill="#089981" stroke="#089981" stroke-width="0.25" textLength="39.3" lengthAdjust="spacingAndGlyphs">+53,33</text>
<text x="566.00" y="45.6" font-size="12" fill="#089981" stroke="#089981" stroke-width="0.25" textLength="48.7" lengthAdjust="spacingAndGlyphs">(+1,93%)</text>
<text x="17.80" y="62" font-size="12" fill="#131722" stroke="#131722" stroke-width="0.25" textLength="39.9" lengthAdjust="spacingAndGlyphs">Объём:</text>
<text x="61.80" y="62" font-size="12" fill="#131722" stroke="#131722" stroke-width="0.25" textLength="64.3" lengthAdjust="spacingAndGlyphs">Поставщик</text>
<text x="129.40" y="62" font-size="12" fill="#131722" stroke="#131722" stroke-width="0.25" textLength="40.3" lengthAdjust="spacingAndGlyphs">данных</text>
<text x="173.40" y="62" font-size="12" fill="#131722" stroke="#131722" stroke-width="0.25" textLength="13.3" lengthAdjust="spacingAndGlyphs">не</text>
<text x="190.65" y="62" font-size="12" fill="#131722" stroke="#131722" stroke-width="0.25" textLength="85.0" lengthAdjust="spacingAndGlyphs">предоставляет</text>
<text x="279.40" y="62" font-size="12" fill="#131722" stroke="#131722" stroke-width="0.25" textLength="41.3" lengthAdjust="spacingAndGlyphs">данные</text>
<text x="325.15" y="62" font-size="12" fill="#131722" stroke="#131722" stroke-width="0.25" textLength="13.6" lengthAdjust="spacingAndGlyphs">об</text>
<text x="343.15" y="62" font-size="12" fill="#131722" stroke="#131722" stroke-width="0.25" textLength="40.0" lengthAdjust="spacingAndGlyphs">объеме</text>
<text x="387.50" y="62" font-size="12" fill="#131722" stroke="#131722" stroke-width="0.25" textLength="19.4" lengthAdjust="spacingAndGlyphs">для</text>
<text x="410.65" y="62" font-size="12" fill="#131722" stroke="#131722" stroke-width="0.25" textLength="30.1" lengthAdjust="spacingAndGlyphs">этого</text>
<text x="445.65" y="62" font-size="12" fill="#131722" stroke="#131722" stroke-width="0.25" textLength="77.0" lengthAdjust="spacingAndGlyphs">инструмента.</text>
<text x="17.80" y="78" font-size="12" fill="#131722" stroke="#131722" stroke-width="0.25" textLength="24.9" lengthAdjust="spacingAndGlyphs">EMA</text>
<text x="46.40" y="78" font-size="12" fill="#131722" stroke="#131722" stroke-width="0.25" textLength="29.3" lengthAdjust="spacingAndGlyphs">(200,</text>
<text x="78.40" y="78" font-size="12" fill="#131722" stroke="#131722" stroke-width="0.25" textLength="31.7" lengthAdjust="spacingAndGlyphs">close)</text>
<text x="117.80" y="78" font-size="12" fill="#f0a93b" stroke="#f0a93b" stroke-width="0.25" textLength="45.9" lengthAdjust="spacingAndGlyphs">2 841,39</text>
<rect x="14.5" y="525.5" width="83.5" height="15" fill="#fff" fill-opacity="0.3"/>
<rect x="100" y="525.5" width="33.5" height="15" fill="#fff" fill-opacity="0.3"/>
<rect x="136.5" y="525.5" width="36.5" height="15" fill="#fff" fill-opacity="0.3"/>
<rect x="174.5" y="525.5" width="27.5" height="15" fill="#fff" fill-opacity="0.3"/>
<text x="17.00" y="536.5" font-size="12" fill="#131722" stroke="#131722" stroke-width="0.25" textLength="19.1" lengthAdjust="spacingAndGlyphs">RSI</text>
<text x="39.80" y="536.5" font-size="12" fill="#131722" stroke="#131722" stroke-width="0.25" textLength="19.1" lengthAdjust="spacingAndGlyphs">(14,</text>
<text x="62.80" y="536.5" font-size="12" fill="#131722" stroke="#131722" stroke-width="0.25" textLength="32.9" lengthAdjust="spacingAndGlyphs">close)</text>
<text x="101.40" y="536.5" font-size="12" fill="#3c6dd0" stroke="#3c6dd0" stroke-width="0.25" textLength="30.7" lengthAdjust="spacingAndGlyphs">61,42</text>
<text x="137.80" y="536.5" font-size="12" fill="#f0a93b" stroke="#f0a93b" stroke-width="0.25" textLength="33.5" lengthAdjust="spacingAndGlyphs">54,80</text>
<circle cx="181" cy="533.5" r="3" fill="none" stroke="#131722" stroke-width="1.1"/><line x1="178.2" y1="537" x2="183.8" y2="530" stroke="#131722" stroke-width="1.1"/>
<circle cx="196" cy="533.5" r="3" fill="none" stroke="#131722" stroke-width="1.1"/><line x1="193.2" y1="537" x2="198.8" y2="530" stroke="#131722" stroke-width="1.1"/>
<text x="930.2" y="59.4" font-size="11.6" fill="#131722" stroke="#131722" stroke-width="0.2" textLength="48.4" lengthAdjust="spacingAndGlyphs">3 400,00</text>
<text x="930.2" y="93.0" font-size="11.6" fill="#131722" stroke="#131722" stroke-width="0.2" textLength="48.4" lengthAdjust="spacingAndGlyphs">3 300,00</text>
<text x="930.2" y="127.6" font-size="11.6" fill="#131722" stroke="#131722" stroke-width="0.2" textLength="48.4" lengthAdjust="spacingAndGlyphs">3 200,00</text>
<text x="930.2" y="163.3" font-size="11.6" fill="#131722" stroke="#131722" stroke-width="0.2" textLength="48.4" lengthAdjust="spacingAndGlyphs">3 100,00</text>
<text x="930.2" y="238.1" font-size="11.6" fill="#131722" stroke="#131722" stroke-width="0.2" textLength="48.4" lengthAdjust="spacingAndGlyphs">2 900,00</text>
<text x="930.2" y="302.1" font-size="11.6" fill="#131722" stroke="#131722" stroke-width="0.2" textLength="48.4" lengthAdjust="spacingAndGlyphs">2 740,00</text>
<text x="930.2" y="335.6" font-size="11.6" fill="#131722" stroke="#131722" stroke-width="0.2" textLength="48.4" lengthAdjust="spacingAndGlyphs">2 660,00</text>
<text x="930.2" y="367.1" font-size="11.6" fill="#131722" stroke="#131722" stroke-width="0.2" textLength="48.4" lengthAdjust="spacingAndGlyphs">2 585,00</text>
<text x="930.2" y="401.9" font-size="11.6" fill="#131722" stroke="#131722" stroke-width="0.2" textLength="48.4" lengthAdjust="spacingAndGlyphs">2 505,00</text>
<text x="930.2" y="439.0" font-size="11.6" fill="#131722" stroke="#131722" stroke-width="0.2" textLength="48.4" lengthAdjust="spacingAndGlyphs">2 425,00</text>
<text x="930.2" y="472.0" font-size="11.6" fill="#131722" stroke="#131722" stroke-width="0.2" textLength="48.4" lengthAdjust="spacingAndGlyphs">2 355,00</text>
<text x="930.2" y="500.8" font-size="11.6" fill="#131722" stroke="#131722" stroke-width="0.2" textLength="48.4" lengthAdjust="spacingAndGlyphs">2 295,00</text>
<rect x="922" y="26" width="68" height="30.9" fill="#fff"/>
<rect x="924.3" y="30.3" width="62.3" height="24.4" rx="5" fill="#fff" stroke="#ebedf1" stroke-width="1"/>
<text x="933.5" y="46" font-size="11.6" fill="#131722" stroke="#131722" stroke-width="0.2" textLength="23.6" lengthAdjust="spacingAndGlyphs">RUB</text>
<path d="M922 184.4H981.0Q983.5 184.4 983.5 186.9V197.5Q983.5 200 981.0 200H922Z" fill="#000"/>
<text x="930.2" y="196.2" font-size="11.6" fill="#fff" stroke="#fff" stroke-width="0.2" textLength="48.4" lengthAdjust="spacingAndGlyphs">3 012,09</text>
<path d="M922 241.3H981.0Q983.5 241.3 983.5 243.8V254.5Q983.5 257 981.0 257H922Z" fill="#ff9800"/>
<text x="930.2" y="253.1" font-size="11.6" fill="#131722" stroke="#131722" stroke-width="0.2" textLength="48.4" lengthAdjust="spacingAndGlyphs">2 841,39</text>
<path d="M922 257.8H982.6Q985.1 257.8 985.1 260.3V284.6Q985.1 287.1 982.6 287.1H922Z" fill="#089981"/>
<text x="930.2" y="269.2" font-size="11.6" fill="#fff" stroke="#fff" stroke-width="0.2" textLength="48.4" lengthAdjust="spacingAndGlyphs">2 821,48</text>
<text x="930.2" y="282.4" font-size="11.6" fill="#d8f0ea" textLength="49.6" lengthAdjust="spacingAndGlyphs">07:43:39</text>
<path d="M922 304.4H981.0Q983.5 304.4 983.5 306.9V317.8Q983.5 320.3 981.0 320.3H922Z" fill="#4caf50"/>
<text x="930.2" y="316.3" font-size="11.6" fill="#fff" stroke="#fff" stroke-width="0.2" textLength="48.4" lengthAdjust="spacingAndGlyphs">2 706,00</text>
<g clip-path="url(#axr)">
<text x="930.2" y="588.9" font-size="11.6" fill="#131722" stroke="#131722" stroke-width="0.2" textLength="31.599999999999998" lengthAdjust="spacingAndGlyphs">40,00</text>
<text x="930.2" y="625.3" font-size="11.6" fill="#131722" stroke="#131722" stroke-width="0.2" textLength="31.599999999999998" lengthAdjust="spacingAndGlyphs">28,00</text>
</g>
<path d="M922 533.5H964.4Q966.9 533.5 966.9 536.0V546.6Q966.9 549.1 964.4 549.1H922Z" fill="#2962ff"/>
<text x="930.2" y="545.2" font-size="11.6" fill="#fff" stroke="#fff" stroke-width="0.2" textLength="31.599999999999998" lengthAdjust="spacingAndGlyphs">61,42</text>
<path d="M922 549.8H964.4Q966.9 549.8 966.9 552.3V562.9Q966.9 565.4 964.4 565.4H922Z" fill="#ff9800"/>
<text x="930.2" y="561.5" font-size="11.6" fill="#131722" stroke="#131722" stroke-width="0.2" textLength="31.599999999999998" lengthAdjust="spacingAndGlyphs">54,80</text>
<text x="82.5" y="643.7" font-size="12" fill="#131722" text-anchor="middle">Ноя</text>
<text x="177.5" y="643.7" font-size="12" fill="#131722" text-anchor="middle" font-weight="bold" textLength="30" lengthAdjust="spacing">2025</text>
<text x="266.4" y="643.7" font-size="12" fill="#131722" text-anchor="middle">Мар</text>
<text x="355.2" y="643.7" font-size="12" fill="#131722" text-anchor="middle">Май</text>
<text x="437" y="643.7" font-size="12" fill="#131722" text-anchor="middle">Июл</text>
<text x="532.2" y="643.7" font-size="12" fill="#131722" text-anchor="middle">Сен</text>
<text x="627.4" y="643.7" font-size="12" fill="#131722" text-anchor="middle">Ноя</text>
<text x="716" y="643.7" font-size="12" fill="#131722" text-anchor="middle" font-weight="bold" textLength="30" lengthAdjust="spacing">2026</text>
<text x="798.4" y="643.7" font-size="12" fill="#131722" text-anchor="middle">Мар</text>
<text x="887" y="643.7" font-size="12" fill="#131722" text-anchor="middle">Май</text>
<path d="M11.5 673.5H23.5V687.5H17V679.2H11.5Z" fill="#e9e9e9"/>
<circle cx="28" cy="676.3" r="2.9" fill="#e9e9e9"/>
<path d="M33 673.5H40L35.5 687.5H28.5Z" fill="#e9e9e9"/>
<text x="47.5" y="687.5" font-size="19.6" font-weight="bold" fill="#e9e9e9" textLength="116.2" lengthAdjust="spacingAndGlyphs">TradingView</text>
</svg></body></html>
